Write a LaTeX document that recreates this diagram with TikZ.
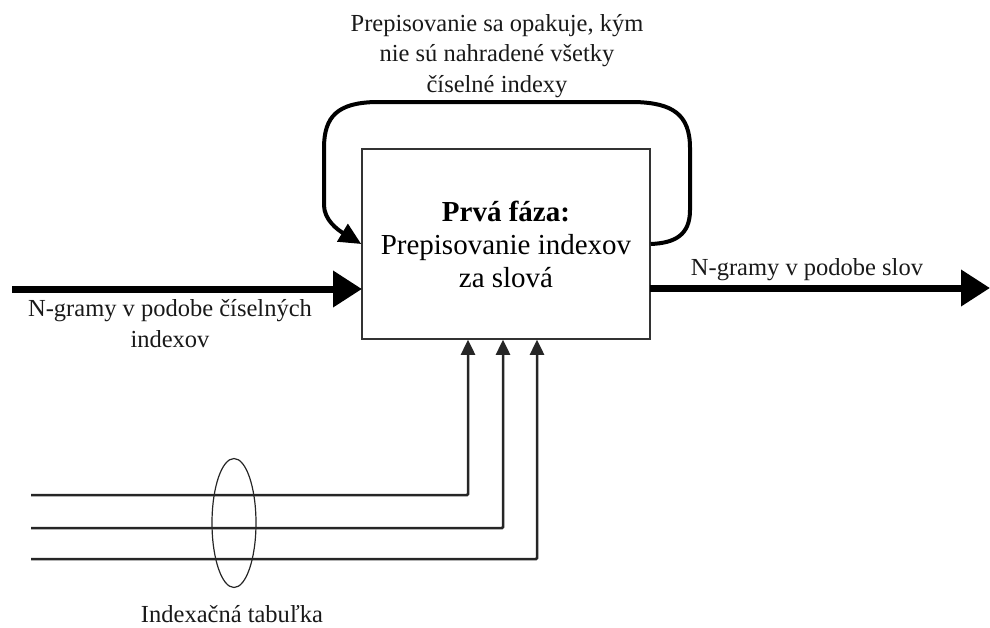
\documentclass[tikz,border=0pt]{standalone}
\usepackage{fontspec}
\setmainfont{Liberation Serif}
\usetikzlibrary{arrows.meta,shapes.geometric}
\begin{document}
\begin{tikzpicture}[x=1pt,y=-1pt,
  lbl/.style={font=\fontsize{24.5}{30.5}\selectfont, align=center, inner sep=0pt, text=black!90},
  mainbox/.style={draw=black!80, line width=1.5pt, minimum width=288pt, minimum height=190pt,
    align=center, font=\fontsize{29}{33}\selectfont, inner sep=0pt},
  flowarrow/.style={line width=7pt, -{Triangle[length=29pt,width=35pt]}},
  looparrow/.style={line width=4pt, -{Triangle[length=22pt,width=20pt]}},
  feed/.style={line width=3pt, draw=black!85},
  feedarrow/.style={line width=2.5pt, draw=black!85, -{Triangle[length=15pt,width=14pt]}},
  bundle/.style={ellipse, draw=black!85, line width=1.2pt, minimum width=44pt, minimum height=129pt, inner sep=0pt}]
\useasboundingbox (0,0) rectangle (990,627);

% main box
\node[mainbox] (box) at (506,244) {\textbf{Prvá fáza:}\\Prepisovanie indexov\\za slová};

% labels (anchor=base is the baseline of the last line)
\node[lbl, anchor=base] (toplabel) at (497,92) {Prepisovanie sa opakuje, kým\\nie sú nahradené všetky\\číselné indexy};
\node[lbl, anchor=base] (inlabel) at (170,347) {N-gramy v podobe číselných\\indexov};
\node[lbl, anchor=base] (outlabel) at (807,275) {N-gramy v podobe slov};
\node[lbl, anchor=base] (tablabel) at (232,622) {Indexačná tabuľka};

% input / output
\coordinate (inStart) at (12,289);
\coordinate (inEnd) at (362,289);
\coordinate (outStart) at (650,288);
\coordinate (outEnd) at (990,288);
\draw[flowarrow] (inStart) -- (inEnd);
\draw[flowarrow] (outStart) -- (outEnd);

% loop
\draw[looparrow] (box.east) .. controls (675,243) and (690,235) .. (690,210)
  -- (690,148) .. controls (690,114) and (672,103) .. (635,102)
  -- (375,102) .. controls (338,103) and (324,116) .. (324,148)
  -- (324,205) .. controls (324,220) and (338,230) .. (box.west);

% feed lines
\coordinate (f1) at (31,495);
\coordinate (f2) at (31,528);
\coordinate (f3) at (31,559);
\coordinate (t1) at ([xshift=-38pt]box.south);
\coordinate (t2) at ([xshift=-3pt]box.south);
\coordinate (t3) at ([xshift=31pt]box.south);
\draw[feedarrow, rounded corners=1pt] (f1) -| (t1);
\draw[feedarrow, rounded corners=1pt] (f2) -| (t2);
\draw[feedarrow, rounded corners=1pt] (f3) -| (t3);

\node[bundle] (group) at (234,523) {};
\end{tikzpicture}
\end{document}
